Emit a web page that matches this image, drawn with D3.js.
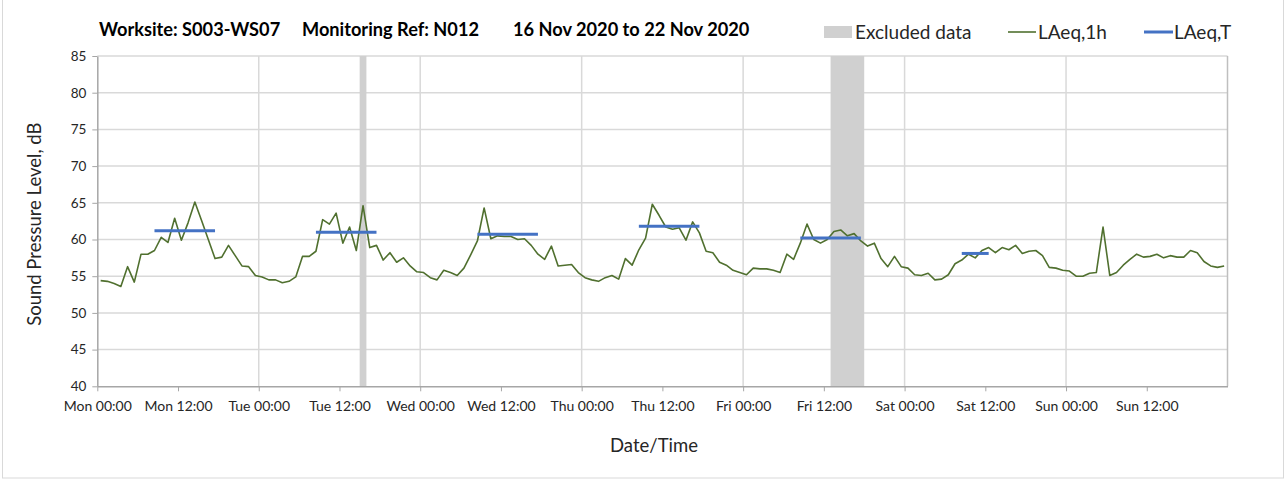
<!DOCTYPE html>
<html><head><meta charset="utf-8">
<script src="https://cdn.jsdelivr.net/npm/d3@7/dist/d3.min.js"></script>
<style>
html,body{margin:0;padding:0;background:#fff;}
svg text{font-family:"Lato","Open Sans",sans-serif;}
</style></head><body>
<svg id="c" width="1286" height="481"></svg>
<script>
// ---- data ----
const dayLabels = ["Mon","Tue","Wed","Thu","Fri","Sat","Sun"];
const tickHours = [0,12,24,36,48,60,72,84,96,108,120,132,144,156];
const yTicks = [40,45,50,55,60,65,70,75,80,85];
// hourly LAeq,1h values (one per hour, Mon 00:00 -> Sun 23:00)
const laeq1h = [
 54.4,54.3,54.0,53.6,56.3,54.2,58.0,58.0,58.5,60.3,59.6,62.9,59.9,62.3,65.1,62.6,60.0,57.4,57.6,59.2,57.8,56.4,56.3,55.1,
 54.9,54.5,54.5,54.1,54.3,54.9,57.7,57.7,58.4,62.7,62.1,63.6,59.5,61.7,58.5,64.6,58.9,59.2,57.2,58.2,56.9,57.5,56.4,55.6,
 55.5,54.8,54.5,55.8,55.5,55.1,56.1,57.9,59.8,64.3,60.1,60.5,60.4,60.4,60.0,60.1,59.2,58.0,57.3,59.1,56.4,56.5,56.6,55.5,
 54.8,54.5,54.3,54.8,55.1,54.6,57.4,56.5,58.6,60.2,64.8,63.3,61.7,61.4,61.6,59.9,62.4,60.9,58.4,58.2,56.9,56.5,55.8,55.5,
 55.2,56.1,56.0,56.0,55.8,55.5,58.0,57.3,59.5,62.1,60.0,59.5,60.0,61.1,61.3,60.5,60.8,59.8,59.1,59.5,57.4,56.3,57.7,56.3,
 56.1,55.2,55.1,55.4,54.5,54.6,55.2,56.7,57.2,58.0,57.5,58.5,58.9,58.2,58.9,58.6,59.2,58.1,58.4,58.5,57.8,56.2,56.1,55.8,
 55.7,55.0,55.0,55.4,55.5,61.7,55.1,55.5,56.5,57.3,58.0,57.6,57.7,58.0,57.5,57.8,57.6,57.6,58.5,58.2,57.0,56.4,56.2,56.4
];
// LAeq,T periods (hours from Mon 00:00) and values
const periodStart = [8.5, 32.5, 56.5, 80.5, 104.5, 128.5];
const periodEnd   = [17.5, 41.5, 65.5, 89.5, 113.5, 132.5];
const laeqT       = [61.2, 61.0, 60.7, 61.8, 60.2, 58.1];
// excluded data periods (hours)
const exclStart = [39, 109];
const exclEnd   = [40, 114];

const titleParts = ["Worksite: S003-WS07", "Monitoring Ref: N012", "16 Nov 2020 to 22 Nov 2020"];

// ---- drawing ----
const svg = d3.select("#c");
const L = 97.3, R = 1227.5, T = 56, B = 386.3;
const x = d3.scaleLinear().domain([0,168]).range([L,R]);
const y = d3.scaleLinear().domain([40,85]).range([B,T]);

// outer frame
svg.append("rect").attr("x",2.5).attr("y",-2).attr("width",1281).attr("height",480)
  .attr("fill","none").attr("stroke","#d9d9d9").attr("stroke-width",1);

// horizontal gridlines
svg.append("g").selectAll("line").data(yTicks.filter(v=>v>40)).join("line")
  .attr("x1",L).attr("x2",R).attr("y1",d=>y(d)).attr("y2",d=>y(d))
  .attr("stroke","#d9d9d9").attr("stroke-width",1.5);
// vertical day gridlines
svg.append("g").selectAll("line").data(d3.range(24,168,24)).join("line")
  .attr("x1",d=>x(d)).attr("x2",d=>x(d)).attr("y1",T).attr("y2",B)
  .attr("stroke","#d9d9d9").attr("stroke-width",1.5);

// excluded bands
svg.append("g").selectAll("rect").data(exclStart.map((s,i)=>[s,exclEnd[i]])).join("rect")
  .attr("x",d=>x(d[0])).attr("width",d=>x(d[1])-x(d[0]))
  .attr("y",T).attr("height",B-T).attr("fill","#d0d0d0");

// right border
svg.append("line").attr("x1",R).attr("x2",R).attr("y1",T).attr("y2",B)
  .attr("stroke","#bfbfbf").attr("stroke-width",1.5);

// axes
const xAxis = d3.axisBottom(x).tickValues(tickHours).tickSize(5).tickSizeOuter(0)
  .tickFormat(h=>dayLabels[Math.floor(h/24)]+" "+(h%24===0?"00:00":"12:00"));
const gx = svg.append("g").attr("transform",`translate(0,${B})`).call(xAxis);
gx.select(".domain").attr("stroke","#a6a6a6").attr("stroke-width",1.5);
gx.selectAll(".tick line").attr("stroke","#a6a6a6");
gx.selectAll(".tick text").attr("font-size",14).attr("fill","#262626").attr("dy","1.2em")
  .style("font-family","Lato, sans-serif");

const yAxis = d3.axisLeft(y).tickValues(yTicks).tickSize(5).tickSizeOuter(0).tickFormat(d3.format("d"));
const gy = svg.append("g").attr("transform",`translate(${L},0)`).call(yAxis);
gy.select(".domain").attr("stroke","#a6a6a6").attr("stroke-width",1.5);
gy.selectAll(".tick line").attr("stroke","#a6a6a6");
gy.selectAll(".tick text").attr("font-size",13.5).attr("fill","#262626").attr("x",-11)
  .style("font-family","Lato, sans-serif");

// LAeq,1h line
const line = d3.line().x((d,i)=>x(i+0.5)).y(d=>y(d));
svg.append("path").datum(laeq1h).attr("d",line).attr("fill","none")
  .attr("stroke","#50702f").attr("stroke-width",1.6).attr("stroke-linejoin","round");

// LAeq,T segments
svg.append("g").selectAll("line").data(laeqT.map((v,i)=>({v,s:periodStart[i],e:periodEnd[i]}))).join("line")
  .attr("x1",d=>x(d.s)).attr("x2",d=>x(d.e)).attr("y1",d=>y(d.v)).attr("y2",d=>y(d.v))
  .attr("stroke","#4472c4").attr("stroke-width",3);

// axis titles
svg.append("text").attr("transform",`translate(41,${(T+B)/2 + 3}) rotate(-90)`)
  .attr("text-anchor","middle").attr("font-size",18.5).attr("fill","#262626").text("Sound Pressure Level, dB");
svg.append("text").attr("x",654).attr("y",452).attr("text-anchor","middle")
  .attr("font-size",18.5).attr("fill","#262626").text("Date/Time");

// title
const titleX = [99, 302, 513];
svg.append("g").selectAll("text").data(titleParts).join("text")
  .attr("x",(d,i)=>titleX[i]).attr("y",36).attr("font-size",18.2).attr("font-weight","bold")
  .attr("fill","#000").text(d=>d);

// legend
const lg = svg.append("g").attr("font-size",19).attr("fill","#262626");
lg.append("rect").attr("x",824).attr("y",26).attr("width",28).attr("height",12).attr("fill","#d0d0d0");
lg.append("text").attr("x",855).attr("y",38.5).text("Excluded data");
lg.append("line").attr("x1",1008).attr("x2",1036).attr("y1",32).attr("y2",32).attr("stroke","#50702f").attr("stroke-width",1.6);
lg.append("text").attr("x",1038).attr("y",38.5).text("LAeq,1h");
lg.append("line").attr("x1",1144).attr("x2",1173).attr("y1",32).attr("y2",32).attr("stroke","#4472c4").attr("stroke-width",3);
lg.append("text").attr("x",1174).attr("y",38.5).text("LAeq,T");
</script>
</body></html>
